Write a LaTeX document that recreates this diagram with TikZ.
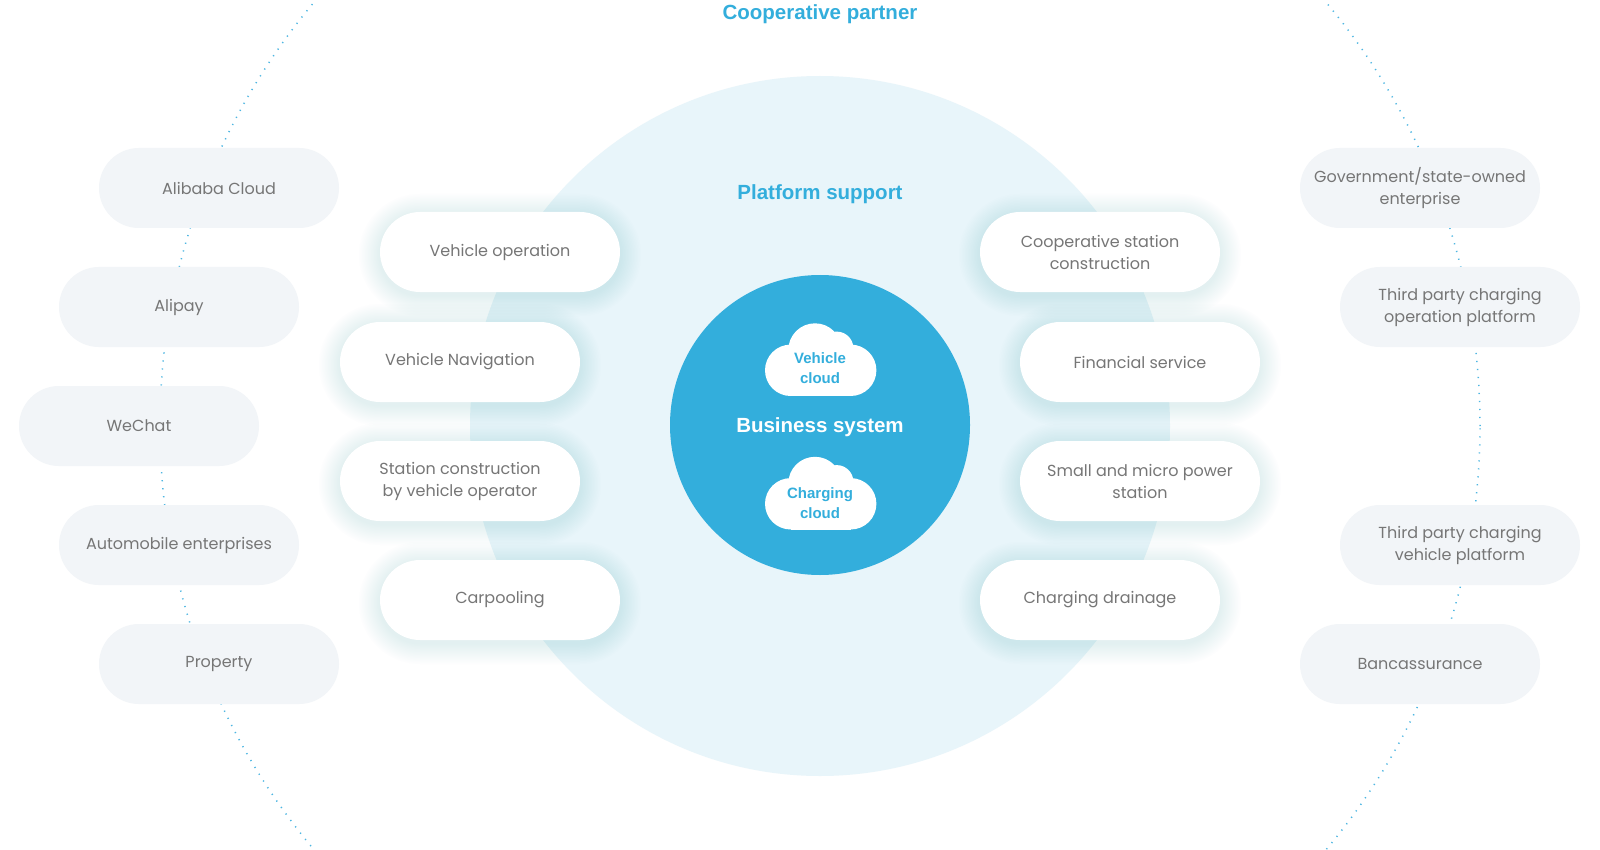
\documentclass[tikz,border=0pt]{standalone}
\usepackage{fontspec}
\setmainfont{Poppins}
\newfontfamily\titlefont{Liberation Sans}
\definecolor{brandblue}{HTML}{33AEDC}
\definecolor{lightcirc}{HTML}{E8F5FA}
\definecolor{pillgray}{HTML}{F2F5F8}
\definecolor{txtgray}{HTML}{767676}
\definecolor{dotblue}{HTML}{4DB6E2}
\definecolor{glow}{HTML}{9CCBDD}
\begin{document}
\begin{tikzpicture}[x=1pt,y=-1pt,
  pillbase/.style={rectangle, rounded corners=40pt, minimum width=240pt, minimum height=80pt,
    inner sep=0pt, align=center, text=txtgray, font=\fontsize{16}{22}\selectfont},
  outerpill/.style={pillbase, fill=pillgray},
  innerpill/.style={pillbase, fill=white},
  glowlayer/.style={fill=glow, opacity=0.02},
  titletext/.style={font=\titlefont\bfseries\fontsize{20.5}{24}\selectfont, text=brandblue,
    anchor=base, inner sep=0pt},
  cloudtext/.style={font=\titlefont\bfseries\fontsize{15}{19.5}\selectfont, text=brandblue,
    align=center, inner sep=0pt},
  dotline/.style={draw=dotblue, line width=1.5pt, dash pattern=on 1.2pt off 6.8pt},
  cloudshape/.pic={
    \fill[white] (-29.8,10.8) circle[radius=25.7pt];
    \fill[white] (30.2,10.8) circle[radius=25.7pt];
    \fill[white] (-29.8,-15) rectangle (30.2,36.5);
    \fill[white] (-5.5,-9.5) circle[radius=26.7pt];
    \fill[white] (16.2,-11.2) circle[radius=16.7pt];
  }
]
\useasboundingbox (0,0) rectangle (1600,850);
\fill[white] (0,0) rectangle (1600,850);

% outer dotted ring
\begin{scope}
  \clip (0,0) rectangle (1600,850);
  \coordinate (ringc) at (820,426);
  \draw[dotline] (ringc) circle[radius=660pt];
\end{scope}

% platform circle and business core
\node[circle, fill=lightcirc, minimum size=700pt, inner sep=0pt] (platform) at (820,426) {};
\node[circle, fill=brandblue, minimum size=300pt, inner sep=0pt] (core) at (820,425) {};

\pic (vcloud) at (820.5,359.5) {cloudshape};
\pic (ccloud) at (820.5,493) {cloudshape};
\node[cloudtext] (vct) at (820,368) {Vehicle\\cloud};
\node[cloudtext] (cct) at (820,503) {Charging\\cloud};
\node[titletext, text=white] (biz) at (820,432) {Business system};

\node[titletext] (coop) at (820,20) {Cooperative partner};
\node[titletext] (plat) at (820,200) {Platform support};

% cooperative partners (outer)
\node[outerpill] (alibaba) at (219,188) {Alibaba Cloud};
\node[outerpill] (alipay) at (179,307) {Alipay};
\node[outerpill] (wechat) at (139,426) {WeChat};
\node[outerpill] (auto) at (179,545) {Automobile enterprises};
\node[outerpill] (property) at (219,664) {Property};
\node[outerpill] (gov) at (1420,188) {Government/state-owned\\enterprise};
\node[outerpill] (tpop) at (1460,307) {Third party charging\\operation platform};
\node[outerpill] (tpveh) at (1460,545) {Third party charging\\vehicle platform};
\node[outerpill] (banc) at (1420,664) {Bancassurance};

% soft glow behind the platform-support pills
\foreach \gx/\gy in {500/252, 460/362, 460/481, 500/600, 1100/252, 1140/362, 1140/481, 1100/600}{
  \foreach \k in {1.5,3,...,21}{
    \pgfmathsetmacro\rr{40+\k}
    \fill[glowlayer, rounded corners=\rr pt] (\gx-120-\k, \gy-40-\k+3) rectangle (\gx+120+\k, \gy+40+\k+3);
  }
}

% platform support (inner)
\node[innerpill] (vop) at (500,252) {Vehicle operation};
\node[innerpill] (vnav) at (460,362) {Vehicle Navigation};
\node[innerpill] (scons) at (460,481) {Station construction\\by vehicle operator};
\node[innerpill] (carp) at (500,600) {Carpooling};
\node[innerpill] (coopst) at (1100,252) {Cooperative station\\construction};
\node[innerpill] (fin) at (1140,362) {Financial service};
\node[innerpill] (micro) at (1140,481) {Small and micro power\\station};
\node[innerpill] (drain) at (1100,600) {Charging drainage};
\end{tikzpicture}
\end{document}
